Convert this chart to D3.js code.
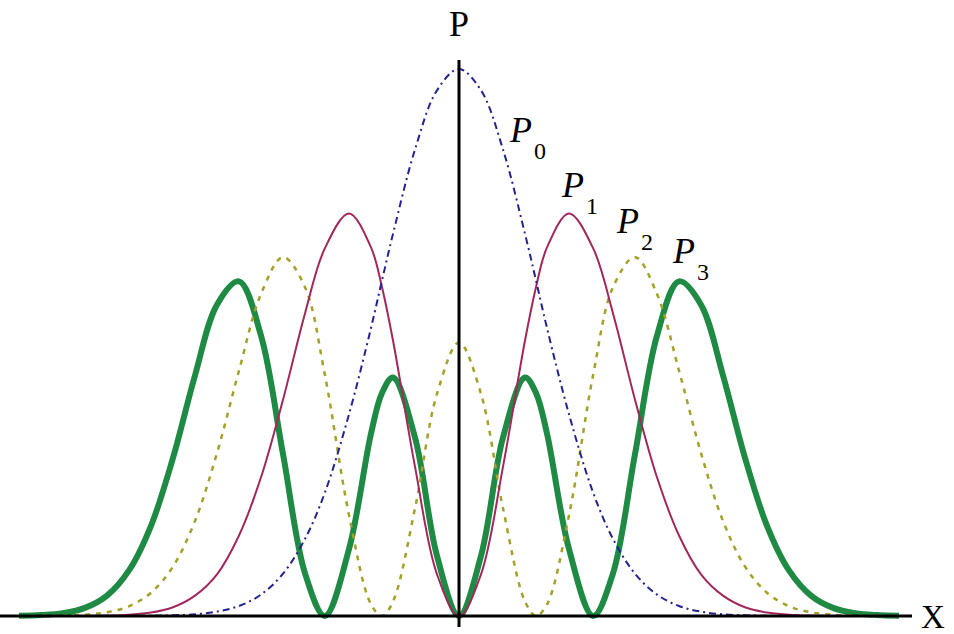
<!DOCTYPE html>
<html lang="en">
<head>
    <meta charset="utf-8">
    <title>Probability densities P0..P3</title>
    <script type="text/javascript" src="https://cdn.jsdelivr.net/npm/d3@7"></script>
    <style type="text/css">
        body { margin: 0; background: #fff; }
        svg { display: block; }
        text { font-family: "Liberation Serif", "Times New Roman", serif; fill: #000; }
    </style>
</head>
<body>
    <script type="text/javascript">
        // Width and height
        var w = 954;
        var h = 634;

        // x positions (in units of the oscillator length)
        var xs = [-4.0, -3.8, -3.6, -3.4, -3.2, -3.0, -2.8, -2.6, -2.4, -2.2, -2.0, -1.8, -1.6, -1.4, -1.22, -1.0, -0.8, -0.7, -0.6, -0.4, -0.2,
                  0, 0.2, 0.4, 0.6, 0.7, 0.8, 1.0, 1.22, 1.4, 1.6, 1.8, 2.0, 2.2, 2.4, 2.6, 2.8, 3.0, 3.2, 3.4, 3.6, 3.8, 4.0];

        // values
        var p0 = [0, 0, 0, 0, 0, 0.0001, 0.0002, 0.0007, 0.0018, 0.0045, 0.0103, 0.0221, 0.0436, 0.0795, 0.127, 0.208, 0.297, 0.346, 0.394, 0.481, 0.542,
                  0.564, 0.542, 0.481, 0.394, 0.346, 0.297, 0.208, 0.127, 0.0795, 0.0436, 0.0221, 0.0103, 0.0045, 0.0018, 0.0007, 0.0002, 0.0001, 0, 0, 0, 0, 0];
        var p1 = [0, 0, 0, 0.0001, 0.0004, 0.0013, 0.0035, 0.009, 0.021, 0.043, 0.083, 0.143, 0.223, 0.312, 0.379, 0.415, 0.380, 0.339, 0.284, 0.154, 0.043,
                  0, 0.043, 0.154, 0.284, 0.339, 0.380, 0.415, 0.379, 0.312, 0.223, 0.143, 0.083, 0.043, 0.021, 0.009, 0.0035, 0.0013, 0.0004, 0.0001, 0, 0, 0];
        var p2 = [0, 0.0001, 0.0004, 0.0013, 0.0038, 0.010, 0.024, 0.051, 0.098, 0.168, 0.253, 0.332, 0.370, 0.339, 0.249, 0.104, 0.012, 0, 0.015, 0.111, 0.229,
                  0.282, 0.229, 0.111, 0.015, 0, 0.012, 0.104, 0.249, 0.339, 0.370, 0.332, 0.253, 0.168, 0.098, 0.051, 0.024, 0.010, 0.0038, 0.0013, 0.0004, 0.0001, 0];
        var p3 = [0.0003, 0.001, 0.003, 0.0084, 0.021, 0.047, 0.093, 0.163, 0.248, 0.321, 0.345, 0.289, 0.167, 0.044, 0, 0.069, 0.188, 0.230, 0.246, 0.184, 0.062,
                  0, 0.062, 0.184, 0.246, 0.230, 0.188, 0.069, 0, 0.044, 0.167, 0.289, 0.345, 0.321, 0.248, 0.163, 0.093, 0.047, 0.021, 0.0084, 0.003, 0.001, 0.0003];

        // series names (label subscripts)
        var names = ["0", "1", "2", "3"];

        // Scales
        var xScale = d3.scaleLinear().domain([-4, 4]).range([19, 899]);
        var yScale = d3.scaleLinear().domain([0, 0.564]).range([616, 69]);

        var svg = d3.select("body")
            .append("svg")
            .attr("width", w)
            .attr("height", h);

        // line generator
        var line = d3.line()
            .x(function(d) { return xScale(d[0]); })
            .y(function(d) { return yScale(d[1]); })
            .curve(d3.curveCatmullRom.alpha(0.5));

        // styles, drawn thickest first
        var series = [
            { vals: p3, color: "#1f8a44", width: 6, dash: null },
            { vals: p2, color: "#a3a128", width: 2.5, dash: "5,6" },
            { vals: p1, color: "#a2285c", width: 2, dash: null },
            { vals: p0, color: "#23238f", width: 2, dash: "7,4,2,4" }
        ];

        series.forEach(function(s) {
            var pts = xs.map(function(x, i) { return [x, s.vals[i]]; });
            svg.append("path")
                .datum(pts)
                .attr("d", line)
                .attr("fill", "none")
                .attr("stroke", s.color)
                .attr("stroke-width", s.width)
                .attr("stroke-dasharray", s.dash)
                .attr("stroke-linejoin", "round");
        });

        // axes
        svg.append("line")
            .attr("x1", 0).attr("x2", 912)
            .attr("y1", yScale(0)).attr("y2", yScale(0))
            .attr("stroke", "#000").attr("stroke-width", 3);
        svg.append("line")
            .attr("x1", xScale(0)).attr("x2", xScale(0))
            .attr("y1", 60).attr("y2", 627)
            .attr("stroke", "#000").attr("stroke-width", 3);

        svg.append("text")
            .attr("x", xScale(0)).attr("y", 36)
            .attr("text-anchor", "middle")
            .style("font-size", "36px")
            .text("P");
        svg.append("text")
            .attr("x", 921).attr("y", 628)
            .style("font-size", "33px")
            .text("X");

        // curve labels
        var labelPos = [[510, 142], [562, 197], [617, 233], [673, 263]];
        labelPos.forEach(function(p, i) {
            var t = svg.append("text")
                .attr("x", p[0]).attr("y", p[1])
                .style("font-size", "36px");
            t.append("tspan").style("font-style", "italic").text("P");
            t.append("tspan")
                .attr("dx", 2).attr("dy", 17)
                .style("font-size", "24px")
                .text(names[i]);
        });
    </script>
</body>
</html>
